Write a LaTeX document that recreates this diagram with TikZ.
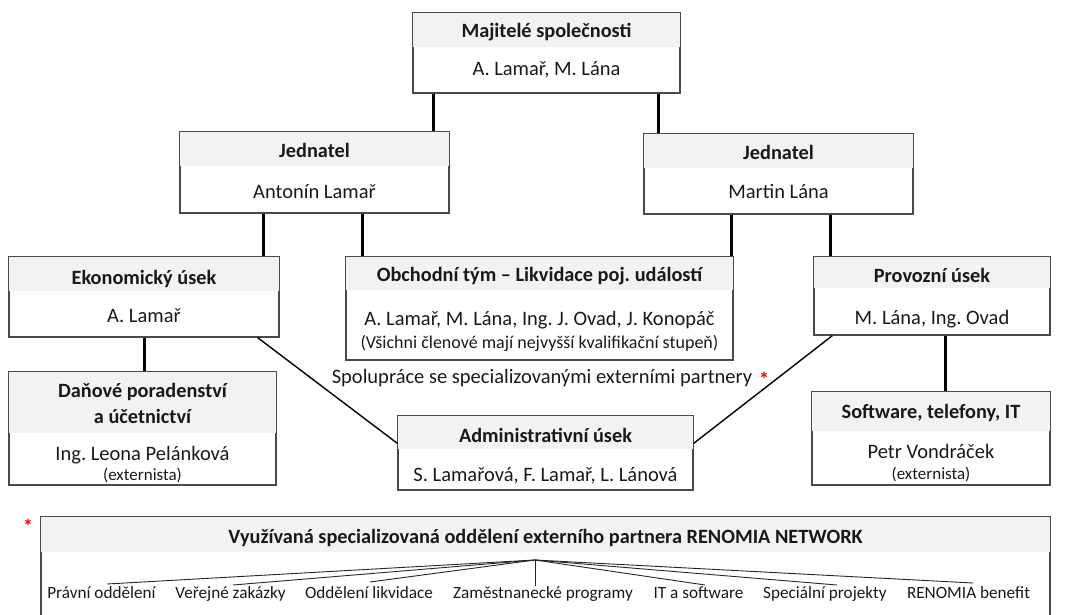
\documentclass[tikz,border=0pt]{standalone}
\usepackage{fontspec}
\setmainfont{Carlito}
\frenchspacing
\usetikzlibrary{calc}
\definecolor{hdrgray}{HTML}{F2F2F2}
\definecolor{edgegray}{HTML}{4A4A4A}
\definecolor{starred}{HTML}{FF0000}
\tikzset{
  orgbox/.style={draw=edgegray, line width=1.2pt, inner sep=0pt, rectangle},
  hdr/.style={fill=hdrgray},
  ttl/.style={font=\fontsize{20.3}{26}\selectfont\bfseries, inner sep=0pt, anchor=base, text=black!90},
  txt/.style={font=\fontsize{20.5}{24}\selectfont, inner sep=0pt, anchor=base, text=black!90},
  note/.style={font=\fontsize{18}{21}\selectfont, inner sep=0pt, anchor=base, text=black!90},
  sml/.style={font=\fontsize{17}{20}\selectfont, inner sep=0pt, anchor=base, text=black!90},
  lbl/.style={font=\fontsize{17.2}{20}\selectfont, inner sep=0pt, anchor=base, text=black!90},
  tie/.style={line width=3pt, black},
  slant/.style={line width=1.4pt, black},
  fan/.style={line width=0.9pt, black!85},
  star/.style={text=starred, font=\fontsize{20}{20}\selectfont\bfseries, inner sep=0pt, anchor=base}
}
\newcommand{\headband}[2]{%
  \fill[hdr] ([shift={(0.6pt,-0.6pt)}]#1.north west) rectangle ([shift={(-0.6pt,-#2)}]#1.north east);}
\begin{document}
\begin{tikzpicture}[x=1pt, y=-1pt]
\useasboundingbox (0,0) rectangle (1069,615);

% ---------- boxes ----------
\node[orgbox, minimum width=267pt, minimum height=80pt] (own) at (546.5,53) {};
\headband{own}{35pt}
\node[orgbox, minimum width=269pt, minimum height=81pt] (jl) at (314.5,172.5) {};
\headband{jl}{35pt}
\node[orgbox, minimum width=269pt, minimum height=80pt] (jr) at (778.5,174) {};
\headband{jr}{35pt}
\node[orgbox, minimum width=270pt, minimum height=80pt] (eko) at (144,297) {};
\headband{eko}{35pt}
\node[orgbox, minimum width=387pt, minimum height=103pt] (obch) at (539.5,308.5) {};
\headband{obch}{34pt}
\node[orgbox, minimum width=236pt, minimum height=78pt] (prov) at (932,296) {};
\headband{prov}{32pt}
\node[orgbox, minimum width=267pt, minimum height=113pt] (dan) at (142.5,428.5) {};
\headband{dan}{62pt}
\node[orgbox, minimum width=238pt, minimum height=93pt] (sw) at (931,438.5) {};
\headband{sw}{40pt}
\node[orgbox, minimum width=295pt, minimum height=74pt] (adm) at (545.5,453) {};
\headband{adm}{34pt}
\node[orgbox, minimum width=1009pt, minimum height=110pt] (ren) at (545.5,572) {};
\headband{ren}{36pt}

% ---------- texts (placed on their baselines) ----------
\node[ttl] (ownT) at (546.5,37.5) {Majitelé společnosti};
\node[txt] (ownB) at (546.5,76) {A. Lamař, M. Lána};
\node[ttl] (jlT) at (314.5,158) {Jednatel};
\node[txt] (jlB) at (314.5,199) {Antonín Lamař};
\node[ttl] (jrT) at (778.5,160) {Jednatel};
\node[txt] (jrB) at (778.5,198) {Martin Lána};
\node[ttl] (ekoT) at (144,284) {Ekonomický úsek};
\node[txt] (ekoB) at (144,322) {A. Lamař};
\node[ttl] (obchT) at (539.5,281) {Obchodní tým – Likvidace poj. událostí};
\node[txt] (obchB) at (539.5,325) {A. Lamař, M. Lána, Ing. J. Ovad, J. Konopáč};
\node[note] (obchS) at (539.5,348) {(Všichni členové mají nejvyšší kvalifikační stupeň)};
\node[ttl] (provT) at (932,282) {Provozní úsek};
\node[txt] (provB) at (932,324) {M. Lána, Ing. Ovad};
\node[ttl] (danT1) at (142.5,397) {Daňové poradenství};
\node[ttl] (danT2) at (142.5,423) {a účetnictví};
\node[txt] (danB) at (142.5,460) {Ing. Leona Pelánková};
\node[sml] (danS) at (142.5,480) {(externista)};
\node[ttl] (swT) at (931,418) {Software, telefony, IT};
\node[txt] (swB) at (931,458) {Petr Vondráček};
\node[sml] (swS) at (931,479) {(externista)};
\node[ttl] (admT) at (545.5,442) {Administrativní úsek};
\node[txt] (admB) at (545.5,481) {S. Lamařová, F. Lamař, L. Lánová};
\node[txt] (coop) at (542,383) {Spolupráce se specializovanými externími partnery};
\node[star] (star1) at (764,386) {*};
\node[star] (star2) at (28,533) {*};
\node[ttl] (renT) at (545.5,543) {Využívaná specializovaná oddělení externího partnera RENOMIA NETWORK};

% ---------- department labels ----------
\node[lbl] (d1) at (101.5,598) {Právní oddělení};
\node[lbl] (d2) at (230.5,598) {Veřejné zakázky};
\node[lbl] (d3) at (369,598) {Oddělení likvidace};
\node[lbl] (d4) at (543,598) {Zaměstnanecké programy};
\node[lbl] (d5) at (698.5,598) {IT a software};
\node[lbl] (d6) at (825,598) {Speciální projekty};
\node[lbl] (d7) at (968.5,598) {RENOMIA benefit};
\coordinate (hub) at (535,560);

% ---------- vertical ties ----------
\coordinate (x1) at (433,0);
\coordinate (x2) at (658,0);
\coordinate (x3) at (263,0);
\coordinate (x4) at (362,0);
\coordinate (x5) at (731,0);
\coordinate (x6) at (830,0);
\coordinate (x7) at (144,0);
\coordinate (x8) at (945,0);
\draw[tie] (own.south -| x1) -- (jl.north -| x1);
\draw[tie] (own.south -| x2) -- (jr.north -| x2);
\draw[tie] (jl.south -| x3) -- (eko.north -| x3);
\draw[tie] (jl.south -| x4) -- (obch.north -| x4);
\draw[tie] (jr.south -| x5) -- (obch.north -| x5);
\draw[tie] (jr.south -| x6) -- (prov.north -| x6);
\draw[tie] (eko.south -| x7) -- (dan.north -| x7);
\draw[tie] (prov.south -| x8) -- (sw.north -| x8);

% ---------- slanted links to the administration ----------
\draw[slant] ([xshift=-22pt]eko.south east) -- ([yshift=-28pt]adm.north west);
\draw[slant] ([xshift=19pt]prov.south west) -- ([yshift=-28pt]adm.north east);

% ---------- fan of partner departments ----------
\draw[fan] (hub) -- ([shift={(5.5pt,14pt)}]d1.base);
\draw[fan] (hub) -- ([shift={(2.5pt,13pt)}]d2.base);
\draw[fan] (hub) -- ([shift={(1pt,16pt)}]d3.base);
\draw[fan] (hub) -- ([shift={(-8pt,12pt)}]d4.base);
\draw[fan] (hub) -- ([shift={(6.5pt,13pt)}]d5.base);
\draw[fan] (hub) -- ([shift={(12pt,13pt)}]d6.base);
\draw[fan] (hub) -- ([shift={(4.5pt,15pt)}]d7.base);
\end{tikzpicture}
\end{document}
